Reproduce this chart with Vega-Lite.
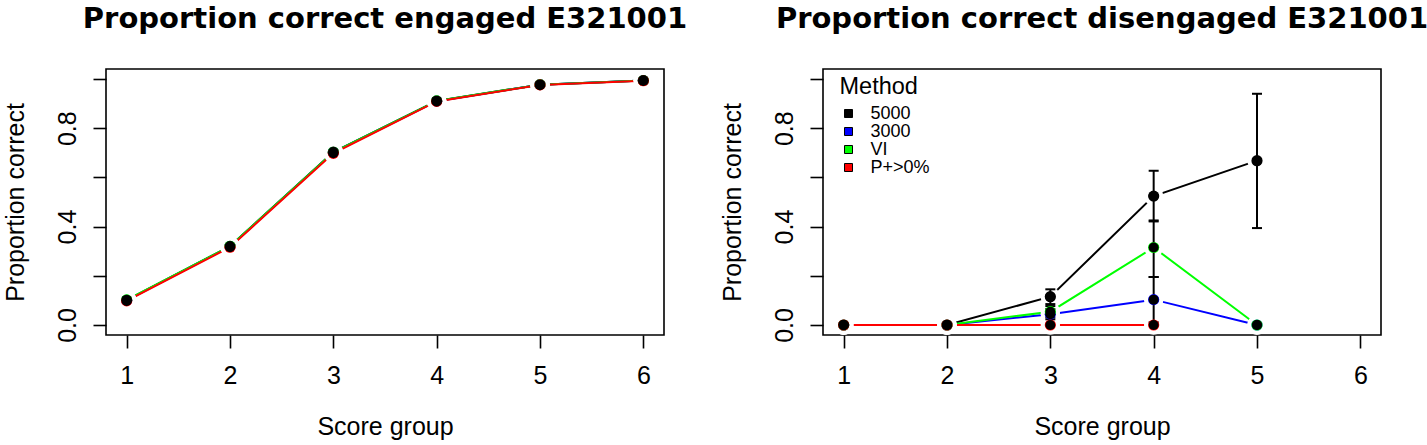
{
  "$schema": "https://vega.github.io/schema/vega-lite/v6.json",
  "padding": {"left": 2, "top": 4, "right": 0, "bottom": 0},
  "background": "white",
  "config": {
    "font": "Liberation Sans",
    "view": {"stroke": "black", "strokeWidth": 1.6},
    "axis": {
      "domain": false, "grid": false, "ticks": true, "tickColor": "black", "tickSize": 13, "tickWidth": 1.6,
      "labelFont": "Liberation Sans", "labelFontSize": 25, "labelColor": "black",
      "titleFont": "Liberation Sans", "titleFontSize": 25, "titleFontWeight": "normal", "titleColor": "black"
    },
    "title": {"font": "DejaVu Sans", "fontSize": 29, "fontWeight": "bold", "color": "black", "anchor": "middle", "frame": "group", "baseline": "alphabetic", "offset": 35}
  },
  "data": {"values": [
    {"panel": "engaged", "method": "5000", "score": 1, "p": 0.101},
    {"panel": "engaged", "method": "5000", "score": 2, "p": 0.320},
    {"panel": "engaged", "method": "5000", "score": 3, "p": 0.703},
    {"panel": "engaged", "method": "5000", "score": 4, "p": 0.911},
    {"panel": "engaged", "method": "5000", "score": 5, "p": 0.977},
    {"panel": "engaged", "method": "5000", "score": 6, "p": 0.994},
    {"panel": "engaged", "method": "3000", "score": 1, "p": 0.100},
    {"panel": "engaged", "method": "3000", "score": 2, "p": 0.319},
    {"panel": "engaged", "method": "3000", "score": 3, "p": 0.701},
    {"panel": "engaged", "method": "3000", "score": 4, "p": 0.910},
    {"panel": "engaged", "method": "3000", "score": 5, "p": 0.977},
    {"panel": "engaged", "method": "3000", "score": 6, "p": 0.994},
    {"panel": "engaged", "method": "VI", "score": 1, "p": 0.102},
    {"panel": "engaged", "method": "VI", "score": 2, "p": 0.320},
    {"panel": "engaged", "method": "VI", "score": 3, "p": 0.702},
    {"panel": "engaged", "method": "VI", "score": 4, "p": 0.911},
    {"panel": "engaged", "method": "VI", "score": 5, "p": 0.977},
    {"panel": "engaged", "method": "VI", "score": 6, "p": 0.994},
    {"panel": "engaged", "method": "P+>0%", "score": 1, "p": 0.098},
    {"panel": "engaged", "method": "P+>0%", "score": 2, "p": 0.316},
    {"panel": "engaged", "method": "P+>0%", "score": 3, "p": 0.698},
    {"panel": "engaged", "method": "P+>0%", "score": 4, "p": 0.909},
    {"panel": "engaged", "method": "P+>0%", "score": 5, "p": 0.976},
    {"panel": "engaged", "method": "P+>0%", "score": 6, "p": 0.993},
    {"panel": "disengaged", "method": "5000", "score": 1, "p": 0.0},
    {"panel": "disengaged", "method": "5000", "score": 2, "p": 0.0},
    {"panel": "disengaged", "method": "5000", "score": 3, "p": 0.115, "lo": 0.085, "hi": 0.145},
    {"panel": "disengaged", "method": "5000", "score": 4, "p": 0.524, "lo": 0.421, "hi": 0.627},
    {"panel": "disengaged", "method": "5000", "score": 5, "p": 0.668, "lo": 0.394, "hi": 0.940},
    {"panel": "disengaged", "method": "3000", "score": 1, "p": 0.0},
    {"panel": "disengaged", "method": "3000", "score": 2, "p": 0.0},
    {"panel": "disengaged", "method": "3000", "score": 3, "p": 0.044, "lo": 0.023, "hi": 0.065},
    {"panel": "disengaged", "method": "3000", "score": 4, "p": 0.103, "lo": 0.011, "hi": 0.195},
    {"panel": "disengaged", "method": "3000", "score": 5, "p": 0.0},
    {"panel": "disengaged", "method": "VI", "score": 1, "p": 0.0},
    {"panel": "disengaged", "method": "VI", "score": 2, "p": 0.0},
    {"panel": "disengaged", "method": "VI", "score": 3, "p": 0.054, "lo": 0.031, "hi": 0.077},
    {"panel": "disengaged", "method": "VI", "score": 4, "p": 0.315, "lo": 0.195, "hi": 0.425},
    {"panel": "disengaged", "method": "VI", "score": 5, "p": 0.0},
    {"panel": "disengaged", "method": "P+>0%", "score": 1, "p": 0.0},
    {"panel": "disengaged", "method": "P+>0%", "score": 2, "p": 0.0},
    {"panel": "disengaged", "method": "P+>0%", "score": 3, "p": 0.0},
    {"panel": "disengaged", "method": "P+>0%", "score": 4, "p": 0.0}
  ]},
  "bounds": "flush",
  "spacing": 159,
  "resolve": {"legend": {"color": "independent"}},
  "hconcat": [
    {
      "title": "Proportion correct engaged E321001",
      "width": 558, "height": 266,
      "transform": [{"filter": "datum.panel === 'engaged'"}],
      "encoding": {
        "x": {"field": "score", "type": "quantitative", "scale": {"domain": [0.8, 6.2], "nice": false, "zero": false},
              "axis": {"values": [1, 2, 3, 4, 5, 6], "format": "d", "labelBaseline": "alphabetic", "labelPadding": 35.7, "title": "Score group", "titleY": 99.3, "titleBaseline": "alphabetic"}},
        "y": {"field": "p", "type": "quantitative", "scale": {"domain": [-0.0407, 1.0407], "nice": false, "zero": false},
              "axis": {"values": [0, 0.2, 0.4, 0.6, 0.8, 1.0], "labelExpr": "(round(datum.value*10) % 4 == 0) ? format(datum.value, '.1f') : ''", "labelAngle": -90, "labelAlign": "center", "labelBaseline": "alphabetic", "labelPadding": 17.4, "title": "Proportion correct", "titleAngle": -90, "titleX": -82.3, "titleY": 133, "titleAlign": "center", "titleBaseline": "alphabetic"}}
      },
      "layer": [
        {"transform": [{"filter": "datum.method === '5000'"}], "mark": {"type": "line", "strokeWidth": 2, "color": "#000000"}, "encoding": {}},
        {"transform": [{"filter": "datum.method === '3000'"}], "mark": {"type": "line", "strokeWidth": 2, "color": "#0000FF"}, "encoding": {}},
        {"transform": [{"filter": "datum.method === 'VI'"}], "mark": {"type": "line", "strokeWidth": 2, "color": "#00FF00"}, "encoding": {}},
        {"transform": [{"filter": "datum.method === 'P+>0%'"}], "mark": {"type": "line", "strokeWidth": 2, "color": "#FF0000"}, "encoding": {}},
        {"mark": {"type": "point", "shape": "circle", "filled": true, "color": "white", "opacity": 1, "size": 380}},
        {"mark": {"type": "point", "shape": "circle", "filled": true, "opacity": 1, "size": 125},
         "encoding": {"color": {"field": "method", "type": "nominal", "scale": {"domain": ["5000", "3000", "VI", "P+>0%"], "range": ["#000000", "#0000FF", "#00FF00", "#FF0000"]}, "legend": null}}},
        {"mark": {"type": "point", "shape": "circle", "filled": true, "color": "black", "opacity": 1, "size": 100}}
      ]
    },
    {
      "title": "Proportion correct disengaged E321001",
      "width": 558, "height": 266,
      "transform": [{"filter": "datum.panel === 'disengaged'"}],
      "encoding": {
        "x": {"field": "score", "type": "quantitative", "scale": {"domain": [0.8, 6.2], "nice": false, "zero": false},
              "axis": {"values": [1, 2, 3, 4, 5, 6], "format": "d", "labelBaseline": "alphabetic", "labelPadding": 35.7, "title": "Score group", "titleY": 99.3, "titleBaseline": "alphabetic"}},
        "y": {"field": "p", "type": "quantitative", "scale": {"domain": [-0.0407, 1.0407], "nice": false, "zero": false},
              "axis": {"values": [0, 0.2, 0.4, 0.6, 0.8, 1.0], "labelExpr": "(round(datum.value*10) % 4 == 0) ? format(datum.value, '.1f') : ''", "labelAngle": -90, "labelAlign": "center", "labelBaseline": "alphabetic", "labelPadding": 17.4, "title": "Proportion correct", "titleAngle": -90, "titleX": -82.3, "titleY": 133, "titleAlign": "center", "titleBaseline": "alphabetic"}}
      },
      "layer": [
        {"transform": [{"filter": "datum.method === '5000'"}], "mark": {"type": "line", "strokeWidth": 2, "color": "#000000"}, "encoding": {}},
        {"transform": [{"filter": "datum.method === '3000'"}], "mark": {"type": "line", "strokeWidth": 2, "color": "#0000FF"}, "encoding": {}},
        {"transform": [{"filter": "datum.method === 'VI'"}], "mark": {"type": "line", "strokeWidth": 2, "color": "#00FF00"}, "encoding": {}},
        {"transform": [{"filter": "datum.method === 'P+>0%'"}], "mark": {"type": "line", "strokeWidth": 2, "color": "#FF0000"}, "encoding": {}},
        {"mark": {"type": "point", "shape": "circle", "filled": true, "color": "white", "opacity": 1, "size": 380}},
        {"transform": [{"filter": "isValid(datum.lo)"}], "mark": {"type": "rule", "color": "black", "strokeWidth": 2},
         "encoding": {"y": {"field": "lo", "type": "quantitative", "title": "Proportion correct", "scale": {"domain": [-0.0407, 1.0407], "nice": false, "zero": false}}, "y2": {"field": "hi"}}},
        {"transform": [{"filter": "isValid(datum.lo)"}], "mark": {"type": "tick", "orient": "horizontal", "color": "black", "size": 10, "thickness": 2, "opacity": 1},
         "encoding": {"y": {"field": "lo", "type": "quantitative", "title": "Proportion correct", "scale": {"domain": [-0.0407, 1.0407], "nice": false, "zero": false}}}},
        {"transform": [{"filter": "isValid(datum.hi)"}], "mark": {"type": "tick", "orient": "horizontal", "color": "black", "size": 10, "thickness": 2, "opacity": 1},
         "encoding": {"y": {"field": "hi", "type": "quantitative", "title": "Proportion correct", "scale": {"domain": [-0.0407, 1.0407], "nice": false, "zero": false}}}},
        {"mark": {"type": "point", "shape": "circle", "filled": true, "opacity": 1, "size": 125},
         "encoding": {"color": {"field": "method", "type": "nominal", "scale": {"domain": ["5000", "3000", "VI", "P+>0%"], "range": ["#000000", "#0000FF", "#00FF00", "#FF0000"]},
           "legend": {"title": "Method", "orient": "none", "legendX": 16.5, "legendY": 6, "padding": 0,
             "titleFont": "Liberation Sans", "titleFontSize": 23.5, "titleFontWeight": "normal", "titleColor": "black", "titlePadding": 6,
             "labelFont": "Liberation Sans", "labelFontSize": 18, "labelColor": "black", "labelOffset": 13,
             "symbolType": "square", "symbolSize": 64, "symbolStrokeColor": "black", "symbolStrokeWidth": 1, "symbolOpacity": 1, "rowPadding": 0,
             "encode": {"symbols": {"update": {"stroke": {"value": "black"}, "strokeWidth": {"value": 1}}}}}}}},
        {"mark": {"type": "point", "shape": "circle", "filled": true, "color": "black", "opacity": 1, "size": 100}}
      ]
    }
  ]
}
